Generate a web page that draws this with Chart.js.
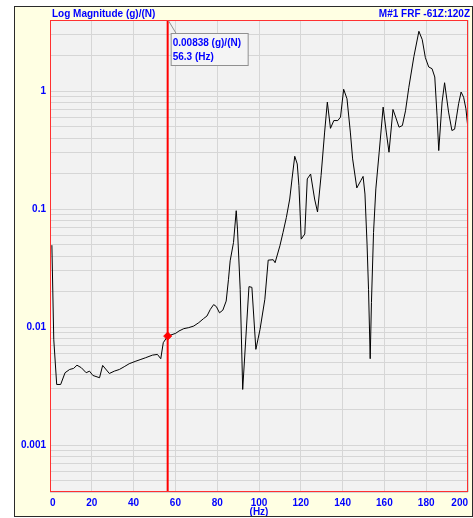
<!DOCTYPE html>
<html>
<head>
<meta charset="utf-8">
<script src="https://cdn.jsdelivr.net/npm/chart.js@4.4.1/dist/chart.umd.min.js"></script>
<style>
  html, body { margin: 0; padding: 0; background: #fff; }
</style>
</head>
<body>
<canvas id="chart" width="473" height="518"></canvas>
<script>
// FRF magnitude
const freqHz = [0.9, 1.8, 3.2, 5.1, 7.2, 9.4, 11.3, 12.9, 15.0, 17.3,
  18.9, 20.5, 23.7, 25.2, 28.4, 30.8, 33.2, 35.5, 37.9, 41.1,
  43.5, 45.8, 49.0, 51.4, 53.0, 54.2, 56.3, 60.1, 61.7, 64.0,
  66.4, 68.8, 71.2, 73.5, 75.1, 76.7, 78.3, 79.6, 81.1, 82.7,
  84.3, 85.4, 86.2, 87.8, 89.1, 89.7, 91.0, 92.2, 95.2, 96.6,
  98.5, 100.5, 102.8, 104.4, 106.8, 107.7, 110.0, 111.5, 113.1, 114.7,
  115.8, 117.1, 118.3, 119.1, 119.8, 120.2, 121.9, 123.1, 124.7, 126.6,
  128.0, 129.7, 131.4, 132.7, 134.2, 135.8, 137.7, 139.0, 140.5, 142.1,
  143.7, 144.8, 146.8, 148.7, 149.8, 150.7, 151.7, 152.4, 153.2, 153.8,
  154.8, 155.9, 157.5, 159.4, 160.9, 162.2, 164.1, 165.4, 167.0, 168.6,
  170.1, 171.7, 174.1, 176.5, 178.1, 179.6, 181.2, 182.8, 184.1, 185.2,
  186.0, 187.6, 188.8, 190.7, 192.3, 193.6, 195.5, 196.7, 197.9, 199.0,
  200.0];
const magnitude = [0.0494, 0.00787, 0.00326, 0.00326, 0.0041, 0.00437, 0.00446, 0.00475, 0.00452, 0.0041,
  0.00423, 0.00389, 0.00372, 0.00473, 0.00404, 0.00423, 0.00437, 0.00461, 0.00489, 0.00514,
  0.00532, 0.0055, 0.00578, 0.00586, 0.00539, 0.00737, 0.00838, 0.00884, 0.00925, 0.00969,
  0.00989, 0.0102, 0.0109, 0.0118, 0.0124, 0.0141, 0.0155, 0.0149, 0.0132, 0.0139,
  0.0166, 0.0254, 0.0364, 0.0521, 0.0968, 0.0676, 0.0209, 0.00296, 0.022, 0.0217,
  0.00647, 0.00955, 0.0172, 0.0369, 0.0372, 0.0351, 0.0488, 0.0634, 0.085, 0.1216,
  0.18, 0.28, 0.241, 0.158, 0.0822, 0.0556, 0.0614, 0.18, 0.198, 0.1216,
  0.0944, 0.192, 0.449, 0.806, 0.483, 0.562, 0.562, 0.601, 1.036, 0.86,
  0.449, 0.266, 0.151, 0.174, 0.189, 0.134, 0.0504, 0.0209, 0.00539, 0.0161,
  0.0634, 0.148, 0.303, 0.731, 0.449, 0.303, 0.698, 0.601, 0.494, 0.51,
  0.68, 1.077, 1.956, 3.21, 2.73, 1.918, 1.6, 1.546, 1.315, 0.617,
  0.313, 0.806, 1.176, 0.663, 0.463, 0.475, 0.78, 0.981, 0.886, 0.707,
  0.478];

const cursorHz = 56.3;
const cursorMag = 0.00838;

const xTicks = [0, 20, 40, 60, 80, 100, 120, 140, 160, 180, 200];
const yTickLabels = [0.001, 0.01, 0.1, 1];
const yMin = 0.0004;
const yMax = 4;

const titleLeft = 'Log Magnitude (g)/(N)';
const titleRight = 'M#1 FRF -61Z:120Z';
const unitY = '(g)/(N)';
const unitX = '(Hz)';

const blue = '#0000ff';
const gridCol = '#d6d6d6';
const fontFam = "'Liberation Sans', Arial, sans-serif";
const font10 = { family: fontFam, size: 10, weight: 'bold' };

// minor grid: 1..9 x each decade inside the range
const yGrid = [];
[0.0001, 0.001, 0.01, 0.1, 1].forEach(dec => {
  for (let m = 1; m <= 9; m++) {
    const v = +(m * dec).toPrecision(3);
    if (v >= yMin && v <= yMax) yGrid.push(v);
  }
});

const points = freqHz.map((f, i) => ({ x: f, y: magnitude[i] }));

const framePlugin = {
  id: 'frame',
  beforeDraw(chart) {
    const c = chart.ctx, a = chart.chartArea;
    c.save();
    c.fillStyle = '#ffffff';
    c.fillRect(0, 0, chart.width, chart.height);
    c.fillStyle = '#ffffe3';
    c.fillRect(14, 7, 458, 509);
    c.fillStyle = '#f2f2f2';
    c.fillRect(a.left, a.top, a.right - a.left, a.bottom - a.top);
    c.restore();
  },
  beforeDatasetsDraw(chart) {
    const c = chart.ctx, a = chart.chartArea;
    const x = chart.scales.x.getPixelForValue(cursorHz);
    c.save();
    c.strokeStyle = '#ff0000';
    c.lineWidth = 2;
    c.beginPath();
    c.moveTo(x, a.top);
    c.lineTo(x, a.bottom);
    c.stroke();
    c.restore();
  },
  afterDraw(chart) {
    const c = chart.ctx, a = chart.chartArea;
    const x = chart.scales.x.getPixelForValue(cursorHz);
    c.save();
    // outer frame
    c.strokeStyle = '#2a2a2a';
    c.lineWidth = 1;
    c.strokeRect(14.5, 6.5, 458, 510);
    // plot border
    c.strokeStyle = '#ff3030';
    c.strokeRect(a.left + 0.5, a.top + 0.5, a.right - a.left - 1, a.bottom - a.top - 1);
    // readout box
    c.strokeStyle = '#909090';
    c.beginPath();
    c.moveTo(x + 1, a.top + 1);
    c.lineTo(x + 8.5, a.top + 13.5);
    c.stroke();
    c.fillStyle = '#f4f4f4';
    c.fillRect(x + 3.5, a.top + 13.5, 77, 32);
    c.strokeRect(x + 3.5, a.top + 13.5, 77, 32);
    c.fillStyle = blue;
    c.font = 'bold 10px ' + fontFam;
    c.textBaseline = 'middle';
    c.textAlign = 'left';
    c.fillText(cursorMag + ' ' + unitY, x + 5, a.top + 23.5);
    c.fillText(cursorHz + ' ' + unitX, x + 5, a.top + 37);
    // header texts
    c.fillText(titleLeft, 52, 14);
    c.textAlign = 'right';
    c.fillText(titleRight, 470, 14);
    c.restore();
  }
};

new Chart(document.getElementById('chart'), {
  type: 'scatter',
  data: {
    datasets: [{
      label: 'cursor',
      data: [{ x: cursorHz, y: cursorMag }],
      pointStyle: 'rectRot',
      pointRadius: 4,
      backgroundColor: '#ff0000',
      borderColor: '#ff0000',
      borderWidth: 1,
      showLine: false
    }, {
      label: 'FRF',
      data: points,
      showLine: true,
      borderColor: '#000000',
      borderWidth: 1,
      pointRadius: 0,
      tension: 0,
      fill: false
    }]
  },
  options: {
    responsive: false,
    animation: false,
    layout: { padding: { left: 0, right: 2, top: 20, bottom: 0 } },
    plugins: { legend: { display: false }, tooltip: { enabled: false } },
    scales: {
      x: {
        type: 'linear',
        min: 0,
        max: 200,
        afterBuildTicks: s => { s.ticks = xTicks.map(v => ({ value: v })); },
        afterFit: s => { s.height = 26; },
        grid: { color: gridCol, drawTicks: false },
        border: { display: false },
        ticks: { color: blue, font: font10, padding: 5, align: 'inner', maxRotation: 0 },
        title: { display: true, text: unitX, color: blue, font: font10, padding: { top: 0, bottom: 0 } }
      },
      y: {
        type: 'logarithmic',
        min: yMin,
        max: yMax,
        afterBuildTicks: s => { s.ticks = yGrid.map(v => ({ value: v })); },
        afterFit: s => { s.width = 50; },
        grid: { color: gridCol, drawTicks: false },
        border: { display: false },
        ticks: {
          color: blue,
          font: font10,
          padding: 4,
          autoSkip: false,
          callback: v => yTickLabels.includes(v) ? String(v) : ''
        }
      }
    }
  },
  plugins: [framePlugin]
});
</script>
</body>
</html>
